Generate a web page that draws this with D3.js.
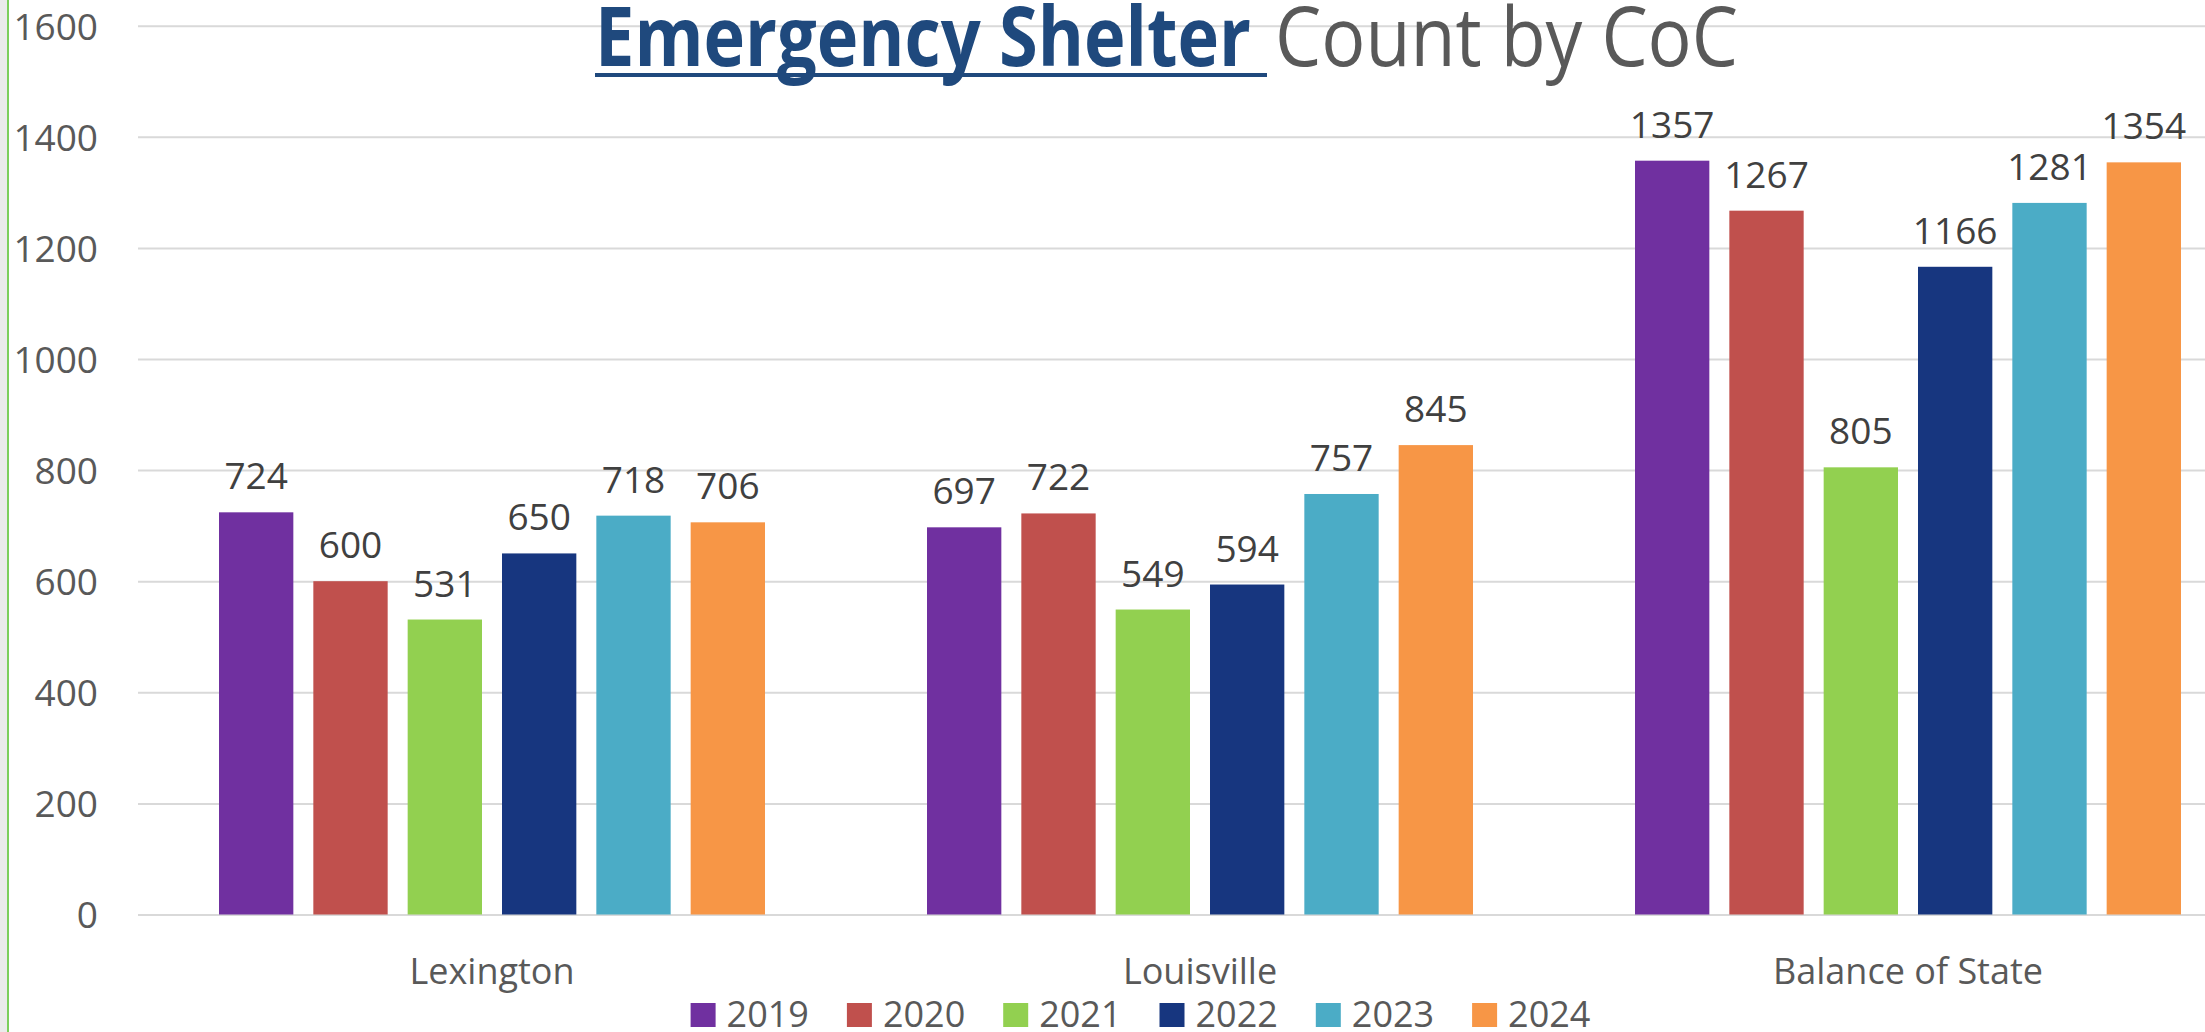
<!DOCTYPE html>
<html>
<head>
<meta charset="utf-8">
<script src="https://cdn.jsdelivr.net/npm/d3@7"></script>
<style>
  html, body { margin: 0; padding: 0; background: #ffffff; overflow: hidden; }
  svg { display: block; font-family: "Open Sans", "Noto Sans", sans-serif; }
</style>
</head>
<body>
<svg id="chart" width="2205" height="1032"></svg>
<script>
// Continuum of Care regions
const categories = ["Lexington", "Louisville", "Balance of State"];
// Point-in-time years
const years = ["2019", "2020", "2021", "2022", "2023", "2024"];
// Emergency shelter counts per year, one value per region
const values2019 = [724, 697, 1357];
const values2020 = [600, 722, 1267];
const values2021 = [531, 549, 805];
const values2022 = [650, 594, 1166];
const values2023 = [718, 757, 1281];
const values2024 = [706, 845, 1354];
const yTicks = [0, 200, 400, 600, 800, 1000, 1200, 1400, 1600];

const seriesValues = [values2019, values2020, values2021, values2022, values2023, values2024];
const colors = ["#7030A0", "#C0504D", "#92D050", "#17367F", "#4BACC6", "#F79646"];

const rows = categories.map((c, i) => ({
  category: c,
  items: years.map((yr, j) => ({ year: yr, value: seriesValues[j][i], color: colors[j] }))
}));

const svg = d3.select("#chart");
const W = 2205, H = 1032;

// slide edge on the far left
svg.append("rect").attr("x", 0).attr("y", 0).attr("width", 7).attr("height", H).attr("fill", "#ebebeb");
svg.append("line").attr("x1", 8).attr("x2", 8).attr("y1", 0).attr("y2", H)
  .attr("stroke", "#7ccf5c").attr("stroke-width", 2);

const plotLeft = 138, band = 708;
const x0 = d3.scaleBand().domain(categories).range([plotLeft, plotLeft + band * categories.length]).padding(0);
const x1 = d3.scaleBand().domain(years).range([81, band - 81]).paddingInner(0.212).paddingOuter(0);
const y = d3.scaleLinear().domain([0, 1600]).range([914.5, 25.7]);

// value axis with gridlines
const yAxis = svg.append("g")
  .attr("transform", `translate(${plotLeft},0)`)
  .call(d3.axisLeft(y).tickValues(yTicks).tickFormat(d3.format("d"))
    .tickSize(-(band * categories.length)).tickPadding(40));
yAxis.select(".domain").remove();
yAxis.selectAll(".tick line").attr("stroke", "#d9d9d9").attr("stroke-width", 2);
yAxis.selectAll(".tick text")
  .attr("fill", "#595959").attr("font-size", 37).attr("dy", "0.36em")
  .attr("font-family", "'Open Sans', sans-serif");

// title: underlined lead-in followed by plain text
const title = svg.append("g");
title.append("text")
  .attr("x", 595).attr("y", 66)
  .attr("font-size", 83).attr("font-weight", 700).attr("fill", "#1F497D")
  .attr("textLength", 656).attr("lengthAdjust", "spacingAndGlyphs")
  .text("Emergency Shelter");
title.append("line")
  .attr("x1", 595).attr("x2", 1267).attr("y1", 75).attr("y2", 75)
  .attr("stroke", "#1F497D").attr("stroke-width", 4);
title.append("text")
  .attr("x", 1275).attr("y", 66)
  .attr("font-size", 83).attr("fill", "#595959")
  .attr("textLength", 463).attr("lengthAdjust", "spacingAndGlyphs")
  .text("Count by CoC");

// bars
const groups = svg.append("g").selectAll("g.group")
  .data(rows).join("g")
  .attr("class", "group")
  .attr("transform", d => `translate(${x0(d.category)},0)`);

groups.selectAll("rect")
  .data(d => d.items).join("rect")
  .attr("x", d => x1(d.year))
  .attr("y", d => y(d.value))
  .attr("width", x1.bandwidth())
  .attr("height", d => y(0) - y(d.value))
  .attr("fill", d => d.color);

// value labels
groups.selectAll("text.val")
  .data(d => d.items).join("text")
  .attr("class", "val")
  .attr("x", d => x1(d.year) + x1.bandwidth() / 2)
  .attr("y", d => y(d.value) - 23)
  .attr("text-anchor", "middle")
  .attr("font-size", 37).attr("fill", "#404040")
  .text(d => d.value);

// category axis
const xAxis = svg.append("g")
  .attr("transform", `translate(0,${y(0)})`)
  .call(d3.axisBottom(x0).tickSize(0).tickPadding(0));
xAxis.select(".domain").remove();
xAxis.selectAll(".tick text")
  .attr("y", 69).attr("dy", 0)
  .attr("fill", "#595959").attr("font-size", 36)
  .attr("font-family", "'Open Sans', sans-serif");

// legend
const legend = svg.append("g").selectAll("g.item")
  .data(years).join("g")
  .attr("class", "item")
  .attr("transform", (d, i) => `translate(${690.6 + i * 156.3},0)`);
legend.append("rect")
  .attr("x", 0).attr("y", 1003).attr("width", 25).attr("height", 24)
  .attr("fill", (d, i) => colors[i]);
legend.append("text")
  .attr("x", 36).attr("y", 1027)
  .attr("font-size", 36).attr("fill", "#595959")
  .text(d => d);
</script>
</body>
</html>
